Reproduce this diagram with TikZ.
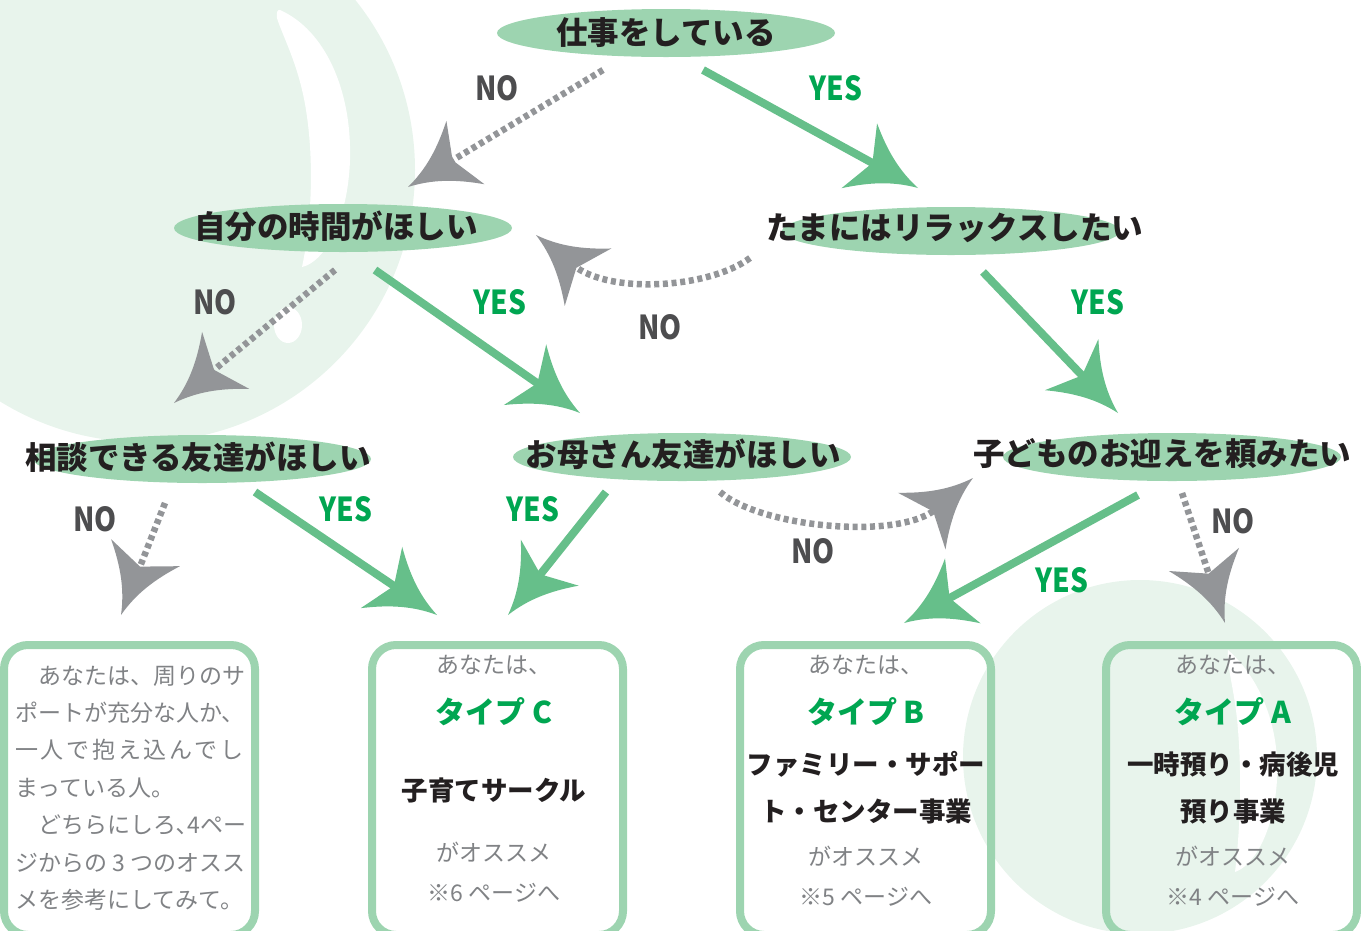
\documentclass[tikz,border=0pt]{standalone}
\usepackage{fontspec}
\setmainfont{Noto Sans CJK JP}
\newfontfamily\answerfont[FakeStretch=0.85]{Noto Sans CJK JP}
\usetikzlibrary{shapes.geometric}

\definecolor{bubble}{HTML}{9DD4B0}
\definecolor{bgtint}{HTML}{E8F4EC}
\definecolor{yesgreen}{HTML}{66BF8A}
\definecolor{nogray}{HTML}{939598}
\definecolor{yestext}{HTML}{00A651}
\definecolor{notext}{HTML}{4D4D4F}
\definecolor{softgray}{HTML}{808285}
\definecolor{ink}{HTML}{231F20}

% big barbed head with curved flanks
\pgfdeclarearrow{
  name = Barb,
  setup code = {
    \pgfarrowssettipend{0pt}
    \pgfarrowssetlineend{-48pt}
    \pgfarrowssetvisualbackend{-52pt}
    \pgfarrowssetbackend{-67pt}
    \pgfarrowshullpoint{0pt}{0pt}
    \pgfarrowsupperhullpoint{-67pt}{37pt}
  },
  drawing code = {
    \pgfpathmoveto{\pgfpointorigin}
    \pgfpathcurveto{\pgfpoint{-25pt}{6pt}}{\pgfpoint{-45pt}{18pt}}{\pgfpoint{-67pt}{37pt}}
    \pgfpathlineto{\pgfpoint{-52pt}{0pt}}
    \pgfpathlineto{\pgfpoint{-67pt}{-37pt}}
    \pgfpathcurveto{\pgfpoint{-45pt}{-18pt}}{\pgfpoint{-25pt}{-6pt}}{\pgfpointorigin}
    \pgfpathclose
    \pgfusepathqfill
  }
}

\begin{document}
\begin{tikzpicture}[x=1pt,y=-1pt,
   qnode/.style={ellipse,fill=bubble,minimum width=338pt,minimum height=48pt,inner sep=0,outer sep=0},
   qtext/.style={text=ink,font=\fontsize{31.5}{36}\selectfont\bfseries,inner sep=0},
   resultbox/.style={draw=bubble,line width=8pt,rounded corners=24pt,minimum width=251pt,minimum height=290pt,inner sep=0},
   softtext/.style={text=softgray,font=\fontsize{23}{37.4}\selectfont,inner sep=0},
   typetext/.style={text=yestext,font=\fontsize{30}{34}\selectfont\bfseries,inner sep=0},
   servicetext/.style={text=ink,font=\fontsize{26.5}{30}\selectfont\bfseries,inner sep=0},
   yesline/.style={draw=yesgreen,line width=8pt,-Barb},
   noline/.style={draw=nogray,line width=6.5pt,dash pattern=on 5pt off 3.7pt,-Barb},
   yeslabel/.style={text=yestext,font=\answerfont\fontsize{33}{35}\selectfont\bfseries,inner sep=0},
   nolabel/.style={text=notext,font=\answerfont\fontsize{33}{35}\selectfont\bfseries,inner sep=0}
  ]
  \useasboundingbox (0,0) rectangle (1361,930);

  % background bubbles
  \fill[bgtint] (143,170) circle[radius=272];
  \fill[white] (280,10) .. controls (325,30) and (352,90) .. (350,160)
     .. controls (348,220) and (325,262) .. (302,267)
     .. controls (312,220) and (314,160) .. (306,110)
     .. controls (299,65) and (282,35) .. (277,18)
     .. controls (276,12) and (278,9) .. (280,10) -- cycle;
  \fill[white] (288,325) ellipse[x radius=14,y radius=18];
  \fill[bgtint] (1140,757) circle[radius=177];
  \fill[white] (1228,650) .. controls (1262,680) and (1280,730) .. (1277,780)
     .. controls (1274,830) and (1255,865) .. (1235,872)
     .. controls (1240,830) and (1242,780) .. (1238,730)
     .. controls (1235,690) and (1226,665) .. (1228,650) -- cycle;

  % questions
  \node[qnode] (job) at (666,33) {};
  \node[qnode] (self) at (343,228) {};
  \node[qnode] (relax) at (951,231) {};
  \node[qnode] (friend) at (202,459) {};
  \node[qnode] (mom) at (682,457) {};
  \node[qnode] (pickup) at (1172,457) {};
  \node[qtext] (jobT) at (666,33) {仕事をしている};
  \node[qtext] (selfT) at (336,226) {自分の時間がほしい};
  \node[qtext] (relaxT) at (955,228) {たまにはリラックスしたい};
  \node[qtext] (friendT) at (198,457) {相談できる友達がほしい};
  \node[qtext] (momT) at (683,454) {お母さん友達がほしい};
  \node[qtext] (pickupT) at (1162,454) {子どものお迎えを頼みたい};

  % results
  \node[resultbox] (boxL) at (129.5,790) {};
  \node[resultbox] (boxC) at (497.5,790) {};
  \node[resultbox] (boxB) at (865.5,790) {};
  \node[resultbox] (boxA) at (1231.5,790) {};

  \node[softtext,align=left,anchor=west] (adviceL) at (15,788)
    {　あなたは、周りのサ\\ポートが充分な人か、\\{\addfontfeature{LetterSpace=12}一人で抱え込んでし}\\まっている人。\\　どちらにしろ､4ペー\\ジからの 3 つのオスス\\メを参考にしてみて。};

  \node[softtext] (cYou) at (494,665) {あなたは、};
  \node[typetext] (cType) at (494,712) {タイプ C};
  \node[servicetext] (cService) at (494,790) {子育てサークル};
  \node[softtext] (cRec) at (494,852) {がオススメ};
  \node[softtext] (cPage) at (494,893) {※6 ページへ};

  \node[softtext] (bYou) at (866,665) {あなたは、};
  \node[typetext] (bType) at (866,712) {タイプ B};
  \node[servicetext] (bService1) at (866,764) {ファミリー・サポー};
  \node[servicetext] (bService2) at (866,811) {ト・センター事業};
  \node[softtext] (bRec) at (866,856) {がオススメ};
  \node[softtext] (bPage) at (866,897) {※5 ページへ};

  \node[softtext] (aYou) at (1233,665) {あなたは、};
  \node[typetext] (aType) at (1233,712) {タイプ A};
  \node[servicetext] (aService1) at (1233,764) {一時預り・病後児};
  \node[servicetext] (aService2) at (1233,811) {預り事業};
  \node[softtext] (aRec) at (1233,856) {がオススメ};
  \node[softtext] (aPage) at (1233,897) {※4 ページへ};

  % connectors
  \draw[noline] ([shift={(-63,37)}]job.center) -- ([shift={(65,-41)}]self.center);
  \draw[yesline] ([shift={(37,37)}]job.center) -- ([shift={(-33,-43)}]relax.center);
  \draw[noline] ([shift={(-201,27)}]relax.center) .. controls +(-40,30) and +(74,60) .. ([shift={(193,7)}]self.center);
  \draw[noline] ([shift={(-8,42)}]self.center) -- ([shift={(-28,-56)}]friend.center);
  \draw[yesline] ([shift={(32,42)}]self.center) -- ([shift={(-102,-44)}]mom.center);
  \draw[yesline] ([shift={(32,41)}]relax.center) -- ([shift={(-54,-44)}]pickup.center);
  \draw[noline] ([shift={(-37,44)}]friend.center) -- ([shift={(-8.5,-175)}]boxL.center);
  \draw[yesline] ([shift={(53,33)}]friend.center) -- ([shift={(-60.5,-175)}]boxC.center);
  \draw[yesline] ([shift={(-76,35)}]mom.center) -- ([shift={(10.5,-175)}]boxC.center);
  \draw[noline] ([shift={(38,35)}]mom.center) .. controls +(40,35) and +(-75,63) .. ([shift={(-199,21)}]pickup.center);
  \draw[yesline] ([shift={(-34,38)}]pickup.center) -- ([shift={(38.5,-167)}]boxB.center);
  \draw[noline] ([shift={(10,36)}]pickup.center) -- ([shift={(-6.5,-167)}]boxA.center);

  % answers
  \node[nolabel] (no1) at (497,88) {NO};
  \node[yeslabel] (yes1) at (836,88) {YES};
  \node[nolabel] (no2) at (660,327) {NO};
  \node[nolabel] (no3) at (215,302) {NO};
  \node[yeslabel] (yes2) at (500,302) {YES};
  \node[yeslabel] (yes3) at (1098,302) {YES};
  \node[nolabel] (no4) at (95,519) {NO};
  \node[yeslabel] (yes4) at (346,509) {YES};
  \node[yeslabel] (yes5) at (533,509) {YES};
  \node[nolabel] (no5) at (813,551) {NO};
  \node[yeslabel] (yes6) at (1062,580) {YES};
  \node[nolabel] (no6) at (1233,521) {NO};
\end{tikzpicture}
\end{document}
